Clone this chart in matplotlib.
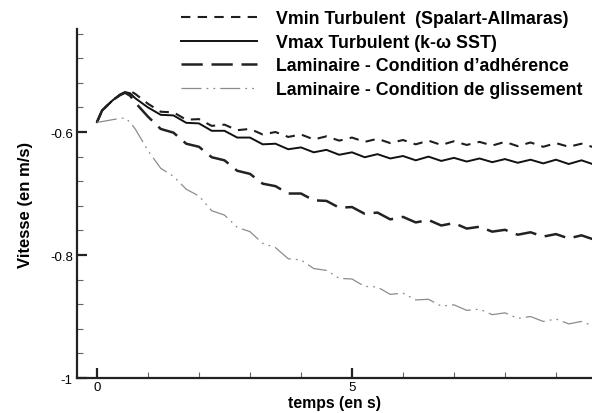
import matplotlib
matplotlib.use("Agg")
import matplotlib.pyplot as plt
from matplotlib.ticker import FixedLocator, FixedFormatter, MultipleLocator

plt.rcParams['font.family'] = ['Liberation Sans', 'DejaVu Sans']

time = [0, 0.1, 0.3, 0.45, 0.55, 0.65, 0.75, 1.0, 1.25, 1.5, 1.75, 2.0, 2.25, 2.5, 2.75,
        3.0, 3.25, 3.5, 3.75, 4.0, 4.25, 4.5, 4.75, 5.0, 5.25, 5.5, 5.75, 6.0, 6.25,
        6.5, 6.75, 7.0, 7.25, 7.5, 7.75, 8.0, 8.25, 8.5, 8.75, 9.0, 9.25, 9.5, 9.75]

vmin_sa = [-0.584, -0.565, -0.549, -0.540, -0.536, -0.533, -0.538, -0.554, -0.567, -0.568,
           -0.580, -0.579, -0.590, -0.588, -0.597, -0.595, -0.604, -0.600, -0.608, -0.604,
           -0.612, -0.607, -0.614, -0.609, -0.616, -0.611, -0.618, -0.613, -0.620, -0.614,
           -0.621, -0.615, -0.621, -0.616, -0.622, -0.616, -0.623, -0.617, -0.624, -0.618,
           -0.624, -0.619, -0.625]

vmax_sst = [-0.584, -0.565, -0.549, -0.539, -0.535, -0.537, -0.545, -0.560, -0.572, -0.573,
            -0.585, -0.586, -0.598, -0.598, -0.609, -0.609, -0.620, -0.619, -0.628, -0.625,
            -0.633, -0.629, -0.637, -0.633, -0.641, -0.636, -0.643, -0.639, -0.646, -0.640,
            -0.647, -0.642, -0.648, -0.643, -0.649, -0.644, -0.650, -0.645, -0.651, -0.645,
            -0.652, -0.646, -0.653]

lam_adh = [-0.584, -0.565, -0.549, -0.540, -0.536, -0.541, -0.552, -0.575, -0.595, -0.601,
           -0.619, -0.624, -0.641, -0.646, -0.663, -0.668, -0.684, -0.688, -0.700, -0.700,
           -0.711, -0.712, -0.723, -0.722, -0.733, -0.731, -0.742, -0.738, -0.747, -0.743,
           -0.752, -0.748, -0.757, -0.754, -0.762, -0.759, -0.767, -0.763, -0.770, -0.766,
           -0.773, -0.768, -0.775]

lam_gli = [-0.584, -0.583, -0.580, -0.578, -0.577, -0.584, -0.595, -0.630, -0.659, -0.672,
           -0.693, -0.704, -0.728, -0.735, -0.755, -0.762, -0.781, -0.788, -0.806, -0.808,
           -0.822, -0.825, -0.838, -0.839, -0.851, -0.852, -0.864, -0.862, -0.873, -0.872,
           -0.883, -0.881, -0.890, -0.888, -0.897, -0.894, -0.903, -0.900, -0.908, -0.904,
           -0.912, -0.908, -0.916]

labels = ["Vmin Turbulent  (Spalart-Allmaras)",
          "Vmax Turbulent (k-\u03c9 SST)",
          "Laminaire - Condition d\u2019adh\u00e9rence",
          "Laminaire - Condition de glissement"]

x_major = [0, 5]
x_major_labels = ["0", "5"]
y_major = [-1.0, -0.8, -0.6]
y_major_labels = ["-1", "-0.8", "-0.6"]

fig = plt.figure(figsize=(5.92, 4.14), dpi=100)
ax = fig.add_axes([0.130, 0.0845, 0.870, 0.843])

ax.plot(time, vmin_sa, color="#1e1e1e", lw=1.5, ls=(0, (4.5, 3.5)), label=labels[0])
ax.plot(time, vmax_sst, color="#111111", lw=1.4, ls="-", label=labels[1])
ax.plot(time, lam_adh, color="#222222", lw=1.8, ls=(0, (8.5, 3.5)), label=labels[2])
ax.plot(time, lam_gli, color="#8c8c8c", lw=0.9, ls=(0, (16, 4, 1.5, 4, 1.5, 4)), label=labels[3])

ax.set_xlim(-0.392, 9.706)
ax.set_ylim(-1.0, -0.4325)

ax.xaxis.set_major_locator(FixedLocator(x_major))
ax.xaxis.set_major_formatter(FixedFormatter(x_major_labels))
ax.xaxis.set_minor_locator(MultipleLocator(1))
ax.yaxis.set_major_locator(FixedLocator(y_major))
ax.yaxis.set_major_formatter(FixedFormatter(y_major_labels))
ax.yaxis.set_minor_locator(MultipleLocator(0.04))

ax.tick_params(which="major", direction="in", length=7, width=1.6, color="#222222",
               labelsize=9.5, pad=3)
ax.tick_params(axis="x", which="major", pad=2.5)
ax.tick_params(which="minor", direction="in", length=4, width=0.8, color="#666666")

for side in ["top", "right"]:
    ax.spines[side].set_visible(False)
for side in ["left", "bottom"]:
    ax.spines[side].set_linewidth(1.6)
    ax.spines[side].set_color("#222222")

ax.set_xlabel("temps (en s)", fontsize=11.3, fontweight="bold", labelpad=1)
ax.set_ylabel("Vitesse (en m/s)", fontsize=12, fontweight="bold", labelpad=12)

leg = fig.legend(loc="upper left", bbox_to_anchor=(0.305, 0.973), frameon=False,
                 prop={"weight": "bold", "size": 12.75}, handlelength=4.3,
                 handletextpad=1.1, labelspacing=0.37, borderpad=0, borderaxespad=0)

fig.savefig("out.png", dpi=100)
